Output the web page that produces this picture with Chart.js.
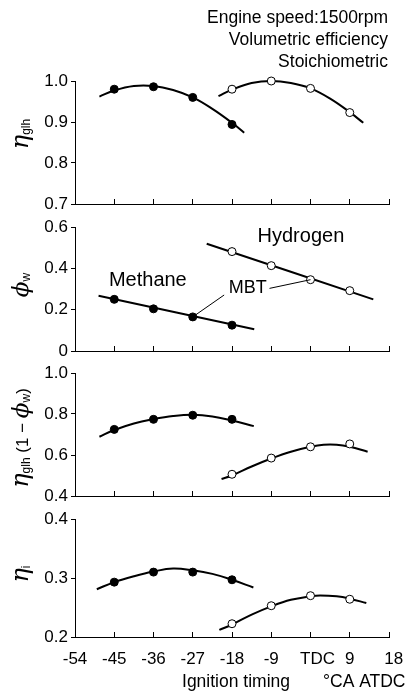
<!DOCTYPE html>
<html>
<head>
<meta charset="utf-8">
<script src="https://cdn.jsdelivr.net/npm/chart.js@4.4.1/dist/chart.umd.min.js"></script>
<style>
  html, body { margin: 0; padding: 0; background: #fff; }
  #wrap { position: relative; width: 410px; height: 700px; overflow: hidden; background: #fff; }
  canvas { position: absolute; left: 0; }
</style>
</head>
<body>
<div id="wrap">
  <canvas id="c1" width="410" height="222" style="top:0px"></canvas>
  <canvas id="c2" width="410" height="152" style="top:214px"></canvas>
  <canvas id="c3" width="410" height="152" style="top:360px"></canvas>
  <canvas id="c4" width="410" height="194" style="top:506px"></canvas>
</div>
<script>
// ===============================
// == DATA
// ===============================
const xTickValues = [-54, -45, -36, -27, -18, -9, 0, 9, 18];
const xTickLabels = ['-54', '-45', '-36', '-27', '-18', '-9', 'TDC', '9', '18'];

// measured ignition timings, °CA ATDC
const methaneTiming = [-45, -36, -27, -18];
const hydrogenTiming = [-18, -9, 0, 9];

// eta_glh
const methaneEtaGlh = [0.980, 0.986, 0.960, 0.894];
const hydrogenEtaGlh = [0.980, 1.000, 0.982, 0.923];
const methaneEtaGlhFitX = [-48.4, -45, -40.5, -36, -31.5, -27, -22.5, -18, -15.2];
const methaneEtaGlhFitY = [0.962, 0.977, 0.988, 0.988, 0.978, 0.960, 0.932, 0.898, 0.874];
const hydrogenEtaGlhFitX = [-21.1, -18, -13.5, -9, -4.5, 0, 4.5, 9, 12.1];
const hydrogenEtaGlhFitY = [0.963, 0.979, 0.995, 1.000, 0.995, 0.982, 0.957, 0.924, 0.898];
const etaGlhTicks = [0.7, 0.8, 0.9, 1.0];
const etaGlhTickLabels = ['0.7', '0.8', '0.9', '1.0'];

// phi_w
const methanePhiW = [0.250, 0.204, 0.165, 0.125];
const hydrogenPhiW = [0.481, 0.413, 0.345, 0.292];
const methanePhiWFitX = [-48.6, -12.9];
const methanePhiWFitY = [0.267, 0.105];
const hydrogenPhiWFitX = [-23.8, 14.4];
const hydrogenPhiWFitY = [0.519, 0.250];
const phiWTicks = [0, 0.2, 0.4, 0.6];
const phiWTickLabels = ['0', '0.2', '0.4', '0.6'];

// eta_glh (1 - phi_w)
const methaneEtaNet = [0.725, 0.774, 0.794, 0.774];
const hydrogenEtaNet = [0.506, 0.585, 0.640, 0.654];
const methaneEtaNetFitX = [-48.4, -45, -40.5, -36, -31.5, -27, -22.5, -18, -13];
const methaneEtaNetFitY = [0.689, 0.722, 0.754, 0.775, 0.790, 0.796, 0.788, 0.768, 0.741];
const hydrogenEtaNetFitX = [-20.4, -18, -13.5, -9, -4.5, 0, 3, 6, 9, 13.1];
const hydrogenEtaNetFitY = [0.483, 0.500, 0.544, 0.583, 0.616, 0.640, 0.650, 0.650, 0.640, 0.616];
const etaNetTicks = [0.4, 0.6, 0.8, 1.0];
const etaNetTickLabels = ['0.4', '0.6', '0.8', '1.0'];

// eta_i
const methaneEtaI = [0.293, 0.310, 0.310, 0.297];
const hydrogenEtaI = [0.2225, 0.253, 0.270, 0.264];
const methaneEtaIFitX = [-49, -45, -40.5, -36, -31.5, -27, -22.5, -18, -13.1];
const methaneEtaIFitY = [0.281, 0.293, 0.303, 0.311, 0.316, 0.313, 0.307, 0.297, 0.284];
const hydrogenEtaIFitX = [-20.9, -18, -13.5, -9, -4.5, 0, 2.2, 6, 9, 12.8];
const hydrogenEtaIFitY = [0.212, 0.221, 0.238, 0.252, 0.263, 0.269, 0.2705, 0.269, 0.265, 0.2576];
const etaITicks = [0.2, 0.3, 0.4];
const etaITickLabels = ['0.2', '0.3', '0.4'];

// ===============================
// == STYLE
// ===============================
const SANS = '"Liberation Sans", Arial, sans-serif';
const GREEK = '"DejaVu Serif", serif';
Chart.defaults.color = '#000';
Chart.defaults.font.family = SANS;

// the original nudges a couple of x labels to the right
const xLabelLead = { 'TDC': '   ', '18': '  ' };

// ===============================
// == HELPERS
// ===============================
function pts(xs, ys) { return xs.map((x, i) => ({ x: x, y: ys[i] })); }

function fitLine(xs, ys) {
  return { data: pts(xs, ys), showLine: true, pointRadius: 0, borderColor: '#000',
           borderWidth: 2, tension: 0.4, clip: false, order: 2 };
}
function marks(xs, ys, open) {
  return { data: pts(xs, ys), showLine: false, pointRadius: 4, pointHoverRadius: 4,
           pointBackgroundColor: open ? '#fff' : '#000', pointBorderColor: '#000',
           pointBorderWidth: 1, clip: false, order: 1 };
}

// rotated axis title built from pieces (greek symbol + subscripts)
function drawRotated(ctx, x, y, parts) {
  ctx.save();
  ctx.translate(x, y);
  ctx.rotate(-Math.PI / 2);
  ctx.textAlign = 'left';
  ctx.textBaseline = 'alphabetic';
  ctx.fillStyle = '#000';
  let total = 0;
  parts.forEach(p => { ctx.font = p.font; p.w = ctx.measureText(p.t).width; total += p.w; });
  let cx = -total / 2;
  parts.forEach(p => { ctx.font = p.font; ctx.fillText(p.t, cx, p.dy || 0); cx += p.w; });
  ctx.restore();
}

const ETA = { t: 'η', font: 'italic 24px ' + GREEK };
const PHI = { t: 'ϕ', font: 'italic 23px ' + GREEK };
const sub = (t) => ({ t: t, font: '12px ' + SANS, dy: 2 });
const txt = (t) => ({ t: t, font: '17px ' + SANS });

// keep every panel's plot box at the same fixed place
function noPad(s) { s.paddingLeft = 0; s.paddingRight = 0; s.paddingTop = 0; s.paddingBottom = 0; }

function panel(id, o) {
  return new Chart(document.getElementById(id), {
    type: 'scatter',
    data: { datasets: o.datasets },
    options: {
      responsive: false,
      animation: false,
      devicePixelRatio: 1,
      layout: { padding: { top: o.padTop, right: 21, left: 0, bottom: 0 } },
      plugins: { legend: { display: false }, tooltip: { enabled: false } },
      events: [],
      scales: {
        x: {
          type: 'linear', position: 'bottom', min: -54, max: 18,
          afterFit: s => { s.height = o.xHeight; noPad(s); },
          afterBuildTicks: s => { s.ticks = xTickValues.map(v => ({ value: v })); },
          border: { display: true, color: '#000', width: 1 },
          grid: { drawOnChartArea: false, drawTicks: true, tickLength: -5, color: '#000' },
          ticks: {
            display: !!o.showX, padding: 17, color: '#000', maxRotation: 0, autoSkip: false,
            font: { family: SANS, size: 17 },
            callback: v => {
              const lab = xTickLabels[xTickValues.indexOf(v)];
              return (xLabelLead[lab] || '') + lab;
            }
          }
        },
        y: {
          type: 'linear', position: 'left', min: o.yTicks[0], max: o.yTicks[o.yTicks.length - 1],
          afterFit: s => { s.width = 75; noPad(s); },
          afterBuildTicks: s => { s.ticks = o.yTicks.map(v => ({ value: v })); },
          border: { display: true, color: '#000', width: 1 },
          grid: { drawOnChartArea: false, drawTicks: true, tickLength: 4, color: '#000' },
          ticks: {
            padding: 3, color: '#000', autoSkip: false,
            font: { family: SANS, size: 17 },
            callback: v => o.yLabels[o.yTicks.indexOf(v)]
          }
        }
      }
    },
    plugins: [{ id: id + 'Text', afterDraw: chart => o.draw(chart) }]
  });
}

// ===============================
// == PANELS
// ===============================
panel('c1', {
  padTop: 81, xHeight: 18,
  yTicks: etaGlhTicks, yLabels: etaGlhTickLabels,
  datasets: [
    fitLine(methaneEtaGlhFitX, methaneEtaGlhFitY),
    fitLine(hydrogenEtaGlhFitX, hydrogenEtaGlhFitY),
    marks(methaneTiming, methaneEtaGlh, false),
    marks(hydrogenTiming, hydrogenEtaGlh, true)
  ],
  draw: chart => {
    const ctx = chart.ctx;
    ctx.save();
    ctx.fillStyle = '#000';
    ctx.font = '17.5px ' + SANS;
    ctx.textAlign = 'right';
    ctx.textBaseline = 'alphabetic';
    ctx.fillText('Engine speed:1500rpm', 388, 23);
    ctx.fillText('Volumetric efficiency', 388, 45);
    ctx.fillText('Stoichiometric', 388, 67);
    ctx.restore();
    drawRotated(ctx, 28, 134, [ETA, sub('glh')]);
  }
});

panel('c2', {
  padTop: 13, xHeight: 15,
  yTicks: phiWTicks, yLabels: phiWTickLabels,
  datasets: [
    fitLine(methanePhiWFitX, methanePhiWFitY),
    fitLine(hydrogenPhiWFitX, hydrogenPhiWFitY),
    marks(methaneTiming, methanePhiW, false),
    marks(hydrogenTiming, hydrogenPhiW, true)
  ],
  draw: chart => {
    const ctx = chart.ctx, sx = chart.scales.x, sy = chart.scales.y;
    ctx.save();
    ctx.fillStyle = '#000';
    ctx.textAlign = 'center';
    ctx.textBaseline = 'middle';
    ctx.font = '20px ' + SANS;
    ctx.fillText('Hydrogen', sx.getPixelForValue(-2.2), sy.getPixelForValue(0.553));
    ctx.fillText('Methane', sx.getPixelForValue(-37.3), sy.getPixelForValue(0.339));
    ctx.font = '18px ' + SANS;
    ctx.fillText('MBT', sx.getPixelForValue(-14.4), sy.getPixelForValue(0.305));
    // leader lines to the MBT points
    ctx.strokeStyle = '#000';
    ctx.lineWidth = 1;
    ctx.beginPath();
    ctx.moveTo(sx.getPixelForValue(-19.8), sy.getPixelForValue(0.271));
    ctx.lineTo(sx.getPixelForValue(methaneTiming[2]), sy.getPixelForValue(methanePhiW[2]));
    ctx.moveTo(sx.getPixelForValue(-9.4), sy.getPixelForValue(0.303));
    ctx.lineTo(sx.getPixelForValue(hydrogenTiming[2]), sy.getPixelForValue(hydrogenPhiW[2]));
    ctx.stroke();
    ctx.restore();
    drawRotated(ctx, 28, 71, [PHI, sub('w')]);
  }
});

panel('c3', {
  padTop: 13, xHeight: 16,
  yTicks: etaNetTicks, yLabels: etaNetTickLabels,
  datasets: [
    fitLine(methaneEtaNetFitX, methaneEtaNetFitY),
    fitLine(hydrogenEtaNetFitX, hydrogenEtaNetFitY),
    marks(methaneTiming, methaneEtaNet, false),
    marks(hydrogenTiming, hydrogenEtaNet, true)
  ],
  draw: chart => {
    drawRotated(chart.ctx, 28, 78, [ETA, sub('glh'), txt(' (1 − '), PHI, sub('w'), txt(')')]);
  }
});

panel('c4', {
  padTop: 13, xHeight: 63, showX: true,
  yTicks: etaITicks, yLabels: etaITickLabels,
  datasets: [
    fitLine(methaneEtaIFitX, methaneEtaIFitY),
    fitLine(hydrogenEtaIFitX, hydrogenEtaIFitY),
    marks(methaneTiming, methaneEtaI, false),
    marks(hydrogenTiming, hydrogenEtaI, true)
  ],
  draw: chart => {
    const ctx = chart.ctx;
    ctx.save();
    ctx.fillStyle = '#000';
    ctx.font = '17.5px ' + SANS;
    ctx.textBaseline = 'alphabetic';
    ctx.textAlign = 'center';
    ctx.fillText('Ignition timing', 236, 181);
    ctx.textAlign = 'left';
    ctx.fillText('°CA ATDC', 323, 181);
    ctx.restore();
    drawRotated(ctx, 28, 68, [ETA, sub('i')]);
  }
});
</script>
</body>
</html>
